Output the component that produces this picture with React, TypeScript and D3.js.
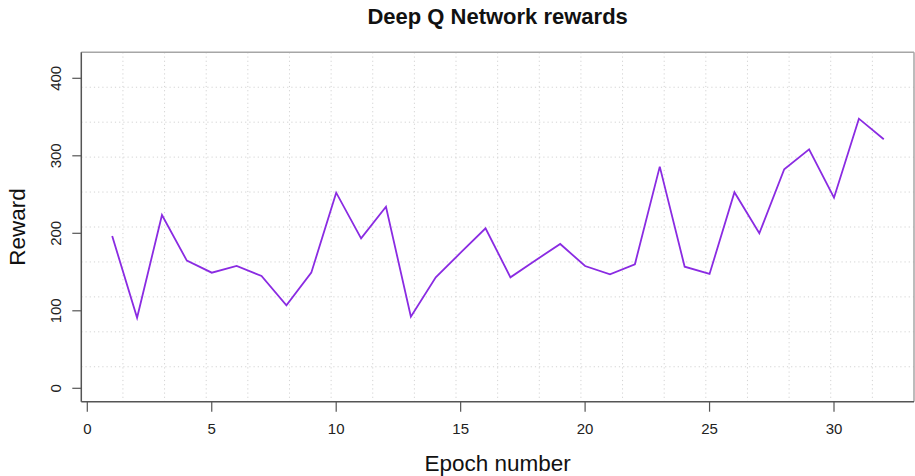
import React from "react";
import * as d3 from "d3";

const epochs = [1,2,3,4,5,6,7,8,9,10,11,12,13,14,15,16,17,18,19,20,21,22,23,24,25,26,27,28,29,30,31,32];
const rewards = [196.5,91,223.5,164.7,149.2,157.8,144.9,107.1,149.2,252.4,193.5,234.3,92.4,143.2,175,206.5,143.2,165,186.2,157.8,147.1,160,286,156.9,147.5,252.9,200,282.6,308.4,246,347.9,321.3];
const xTicks = [0,5,10,15,20,25,30];
const yTicks = [0,100,200,300,400];
const title = "Deep Q Network rewards";
const xLabel = "Epoch number";
const yLabel = "Reward";

const W = 915, H = 476;
const box = { left: 81.3, right: 914, top: 52.3, bottom: 401.7 };

export default function App() {
  const x = d3.scaleLinear().domain([0, 30]).range([87.3, 834]);
  const y = d3.scaleLinear().domain([0, 400]).range([388.3, 78.3]);
  const line = d3.line<number>().x((_, i) => x(epochs[i])).y((d) => y(d));
  const bw = box.right - box.left, bh = box.bottom - box.top;
  const vGrid = d3.range(1, 20).map((i) => box.left + (bw * i) / 20);
  const hGrid = d3.range(1, 10).map((i) => box.top + (bh * i) / 10);
  const font = "Liberation Sans, Arial, Helvetica, sans-serif";
  return (
    <svg width={W} height={H} style={{ position: "absolute", left: 0, top: 0, background: "#fff" }} fontFamily={font}>
      <rect x={0} y={0} width={W} height={H} fill="#fff" />
      {vGrid.map((gx, i) => (
        <line key={"v" + i} x1={gx} x2={gx} y1={box.top} y2={box.bottom} stroke="#d3d3d3" strokeWidth={1} strokeDasharray="1.2 3" />
      ))}
      {hGrid.map((gy, i) => (
        <line key={"h" + i} x1={box.left} x2={box.right} y1={gy} y2={gy} stroke="#d3d3d3" strokeWidth={1} strokeDasharray="1.2 3" />
      ))}
      <line x1={box.left} x2={box.right} y1={box.top} y2={box.top} stroke="#a6a6a6" strokeWidth={1.5} />
      <line x1={box.right} x2={box.right} y1={box.top} y2={box.bottom} stroke="#a6a6a6" strokeWidth={1.5} />
      <path d={line(rewards) || ""} fill="none" stroke="#8A2BE2" strokeWidth={1.8} strokeLinejoin="miter" />
      <line x1={box.left} x2={box.left} y1={box.top} y2={box.bottom} stroke="#555" strokeWidth={1.5} />
      <line x1={box.left} x2={box.right} y1={box.bottom} y2={box.bottom} stroke="#555" strokeWidth={1.5} />
      {yTicks.map((t) => (
        <g key={"yt" + t}>
          <line x1={box.left - 9} x2={box.left} y1={y(t)} y2={y(t)} stroke="#555" strokeWidth={1.2} />
          <text transform={`translate(${60.5},${y(t)}) rotate(-90)`} textAnchor="middle" fontSize={15} fill="#222">{t}</text>
        </g>
      ))}
      {xTicks.map((t) => (
        <g key={"xt" + t}>
          <line x1={x(t)} x2={x(t)} y1={box.bottom} y2={box.bottom + 10} stroke="#555" strokeWidth={1.2} />
          <text x={x(t)} y={434} textAnchor="middle" fontSize={15} fill="#222">{t}</text>
        </g>
      ))}
      <text x={(box.left + box.right) / 2} y={24} textAnchor="middle" fontSize={22} fontWeight="bold" fill="#111">{title}</text>
      <text x={(box.left + box.right) / 2} y={471} textAnchor="middle" fontSize={22.5} fill="#111">{xLabel}</text>
      <text transform={`translate(${25},${(box.top + box.bottom) / 2}) rotate(-90)`} textAnchor="middle" fontSize={22.5} fill="#111">{yLabel}</text>
    </svg>
  );
}
